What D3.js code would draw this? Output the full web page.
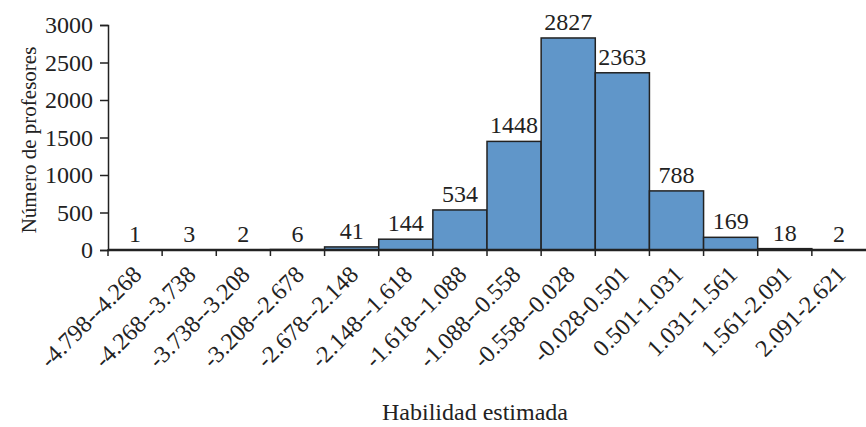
<!DOCTYPE html>
<html>
<head>
<meta charset="utf-8">
<script src="https://cdn.jsdelivr.net/npm/d3@7"></script>
<style>
  body { margin: 0; background: #fff; }
  text { font-family: "Liberation Serif", "Times New Roman", serif; fill: #222; }
</style>
</head>
<body>
<script>
// bins of estimated ability and number of teachers in each
var bins = ["-4.798--4.268", "-4.268--3.738", "-3.738--3.208", "-3.208--2.678",
  "-2.678--2.148", "-2.148--1.618", "-1.618--1.088", "-1.088--0.558",
  "-0.558--0.028", "-0.028-0.501", "0.501-1.031", "1.031-1.561",
  "1.561-2.091", "2.091-2.621"];
var counts = [1, 3, 2, 6, 41, 144, 534, 1448, 2827, 2363, 788, 169, 18, 2];
var yTicks = [0, 500, 1000, 1500, 2000, 2500, 3000];

var width = 866, height = 427;
var margin = {top: 25, right: 0, bottom: 177, left: 108};

var svg = d3.select("body")
  .append("svg")
  .attr("width", width)
  .attr("height", height);

var x = d3.scaleBand()
  .domain(bins)
  .range([margin.left, width - margin.right])
  .padding(0);
var y = d3.scaleLinear()
  .domain([0, 3000])
  .range([height - margin.bottom, margin.top]);

// bars
svg.selectAll(".bar")
  .data(counts)
  .enter().append("rect")
  .attr("class", "bar")
  .attr("x", function(d, i) { return x(bins[i]); })
  .attr("y", function(d) { return y(d); })
  .attr("width", x.bandwidth())
  .attr("height", function(d) { return y(0) - y(d); })
  .attr("fill", "#6096c9")
  .attr("stroke", "#222")
  .attr("stroke-width", 1.5);

// value labels
svg.selectAll(".val")
  .data(counts)
  .enter().append("text")
  .attr("class", "val")
  .attr("x", function(d, i) { return x(bins[i]) + x.bandwidth() / 2; })
  .attr("y", function(d) { return y(d) - 8; })
  .attr("text-anchor", "middle")
  .style("font-size", "24px")
  .text(function(d) { return d; });

// y axis
var yAxis = svg.append("g")
  .attr("transform", "translate(" + margin.left + ",0)")
  .call(d3.axisLeft(y).tickValues(yTicks).tickFormat(d3.format("d")).tickSize(8).tickPadding(7));
yAxis.selectAll("text").style("font-size", "24px").attr("dy", "0.33em");
yAxis.selectAll("path, line").attr("stroke", "#222").attr("stroke-width", 1.5);

// x axis: ticks at band boundaries
var xAxis = svg.append("g").attr("transform", "translate(0," + y(0) + ")");
xAxis.append("line")
  .attr("x1", margin.left).attr("x2", width)
  .attr("stroke", "#222").attr("stroke-width", 2.5);
xAxis.selectAll(".tk")
  .data(bins)
  .enter().append("line")
  .attr("class", "tk")
  .attr("x1", function(d) { return x(d); })
  .attr("x2", function(d) { return x(d); })
  .attr("y1", 0).attr("y2", 6)
  .attr("stroke", "#222").attr("stroke-width", 1.5);
xAxis.selectAll(".lab")
  .data(bins)
  .enter().append("text")
  .attr("class", "lab")
  .attr("text-anchor", "end")
  .style("font-size", "24px")
  .attr("transform", function(d) {
    return "translate(" + (x(d) + x.bandwidth() / 2 + 8) + ",26) rotate(-45)";
  })
  .text(function(d) { return d; });

// axis titles
svg.append("text")
  .attr("transform", "rotate(-90)")
  .attr("x", -140)
  .attr("y", 36)
  .attr("text-anchor", "middle")
  .style("font-size", "21px")
  .text("Número de profesores");

svg.append("text")
  .attr("x", 475)
  .attr("y", 420)
  .attr("text-anchor", "middle")
  .style("font-size", "24px")
  .text("Habilidad estimada");
</script>
</body>
</html>
